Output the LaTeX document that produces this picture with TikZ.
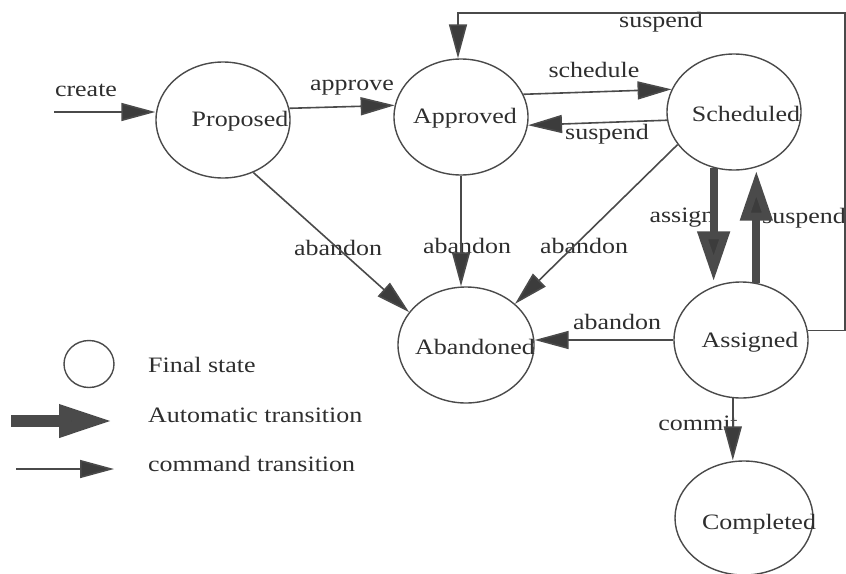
\documentclass[tikz,border=0pt]{standalone}
\usepackage{fontspec}
\setmainfont{Liberation Serif}
\usepackage{graphicx}
\usetikzlibrary{arrows.meta,shapes.geometric}
\definecolor{ln}{HTML}{4A4A4A}
\definecolor{hd}{HTML}{3C3C3C}
\definecolor{tx}{HTML}{2E2E2E}
\newcommand{\sx}[1]{\scalebox{1.18}[1]{#1}}
\begin{document}
\begin{tikzpicture}[x=1pt,y=-1pt,
  st/.style={draw=ln,line width=1.4pt,ellipse,inner sep=0pt,minimum width=134pt,minimum height=116pt},
  lbl/.style={text=tx,inner sep=0pt,font=\fontsize{22}{26}\selectfont},
  cmd/.style={draw=ln,line width=1.6pt,-{Triangle[length=34pt,width=18pt,fill=hd]},shorten >=0pt},
  auto/.style={draw=ln,line width=8pt,-{Triangle[length=50pt,width=31pt,fill=hd]}},
  autolg/.style={draw=ln,line width=12pt,-{Triangle[length=55pt,width=30pt,fill=hd]}}]
\useasboundingbox (0,0) rectangle (846,573);
% states
\node[st] (P) at (223,120) {};
\node[st] (A) at (461,117) {};
\node[st] (S) at (734,112) {};
\node[st,minimum width=136pt] (Ab) at (466,345) {};
\node[st] (As) at (741,340) {};
\node[st,minimum width=138pt,minimum height=114pt] (C) at (744,518) {};
\node[st,minimum width=50pt,minimum height=47pt] (fs) at (89,364) {};
% state names
\node[lbl] (tP) at (240,121) {\sx{Proposed}};
\node[lbl] (tA) at (465,118) {\sx{Approved}};
\node[lbl] (tS) at (746,114) {\sx{Scheduled}};
\node[lbl] (tAb) at (475,347) {\sx{Abandoned}};
\node[lbl] (tAs) at (750,342) {\sx{Assigned}};
\node[lbl] (tC) at (759,524) {\sx{Completed}};
% transition labels
\node[lbl] (l1) at (86,90) {\sx{create}};
\node[lbl] (l2) at (352,88) {\sx{approve}};
\node[lbl] (l3) at (594,70) {\sx{schedule}};
\node[lbl] (l4) at (607,134) {\sx{suspend}};
\node[lbl] (l5) at (661,22) {\sx{suspend}};
\node[lbl] (l6) at (338,248) {\sx{abandon}};
\node[lbl] (l7) at (467,246) {\sx{abandon}};
\node[lbl] (l8) at (584,246) {\sx{abandon}};
\node[lbl] (l9) at (617,322) {\sx{abandon}};
\node[lbl] (l10) at (682,218) {\sx{assign}};
\node[lbl] (l11) at (804,218) {\sx{suspend}};
\node[lbl] (l12) at (698,423) {\sx{commit}};
% legend text
\node[lbl,anchor=west] (g1) at (148,365) {\sx{Final state}};
\node[lbl,anchor=west] (g2) at (148,415) {\sx{Automatic transition}};
\node[lbl,anchor=west] (g3) at (148,464) {\sx{command transition}};
% connectors
\coordinate (cs) at (54,112);
\draw[cmd] (cs) -- (cs -| P.west);
\draw[cmd] (P.10) -- (A.170);
\draw[cmd] (A.20) -- (S.160);
\draw[cmd] (S.187) -- (A.-7);
\coordinate (r1) at (845,331);
\coordinate (r2) at (845,13);
\coordinate (r3) at (458,13);
\draw[cmd] (As.8) -- (As.8 -| r1) -- (r2) -- (r3) -- (r3 |- A.north);
\draw[cmd] (P.-60) -- (Ab.150);
\draw[cmd] (A.south) -- (A.south |- Ab.north);
\draw[cmd] (S.-150) -- (Ab.40);
\draw[cmd] (As.west) -- (As.west -| Ab.east);
\draw[auto] (S.-110) -- (S.-110 |- As.north);
\draw[auto] (As.75) -- (As.75 |- S.south);
\draw[cmd] (As.-98) -- (As.-98 |- C.north);
% legend arrows
\coordinate (la1) at (11,421);
\coordinate (la2) at (114,421);
\coordinate (lb1) at (16,469);
\coordinate (lb2) at (114,469);
\draw[autolg] (la1) -- (la2);
\draw[cmd] (lb1) -- (lb2);
\end{tikzpicture}
\end{document}
